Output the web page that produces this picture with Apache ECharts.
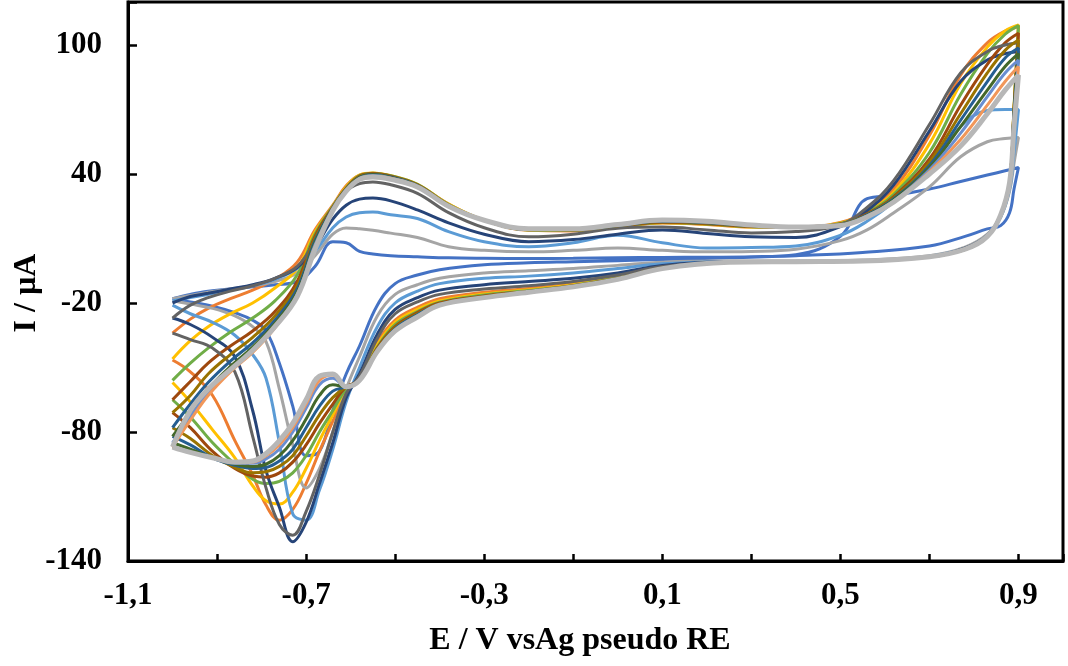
<!DOCTYPE html>
<html>
<head>
<meta charset="utf-8">
<script src="https://cdn.jsdelivr.net/npm/echarts@6/dist/echarts.min.js"></script>
<style>
  html, body { margin: 0; padding: 0; background: #fff; }
  #chart { width: 1068px; height: 666px; }
</style>
</head>
<body>
<div id="chart"></div>
<script>
// Potential program of one cycle: anodic sweep -1.0 -> 0.9 V, then cathodic sweep 0.9 -> -1.0 V
const potential = [
  -1.00, -0.96, -0.92, -0.87, -0.82, -0.77, -0.72, -0.68, -0.64, -0.61, -0.58, -0.55, -0.51, -0.45, -0.38, -0.30,
  -0.20, -0.10, 0.00, 0.10, 0.20, 0.30, 0.40, 0.50, 0.56, 0.62, 0.70, 0.77, 0.83, 0.87, 0.90,
  0.89, 0.88, 0.86, 0.83, 0.78, 0.70, 0.55, 0.40, 0.25, 0.10, 0.00, -0.10, -0.20, -0.30, -0.40, -0.45,
  -0.50, -0.54, -0.58, -0.61, -0.64, -0.67, -0.70, -0.73, -0.76, -0.79, -0.82, -0.86, -0.91, -0.96, -1.00
];

// Current (µA) for each recorded scan, same point order as `potential`
const scan1 = [-18, -16, -14.5, -13.5, -12.5, -11.5, -10, -3, 8.5, 8, 4, 2.8, 2, 1.5, 1, 0.8, 0.7, 0.8, 1, 1.2, 1.3, 1.5, 2.5, 11, 28.5, 30, 33, 36.5, 39.5, 41.5, 43,
  33, 22, 16, 14.5, 11, 6.5, 3.5, 2, 1, 0.2, -0.3, -0.8, -1.3, -2.2, -4.5, -7, -11, -21, -40, -53, -70, -89, -91, -68, -48, -33, -28, -24.5, -21.5, -19.5, -18];
const scan2 = [-34, -27.5, -22.5, -18, -14, -9, -1, 14, 25.5, 34.5, 39.5, 40.3, 39, 35, 26, 18.5, 13.8, 13.5, 15.3, 17.2, 16.5, 15.3, 15.3, 17.5, 23, 33, 58, 86, 101, 106.5, 108.5,
  70, 36, 21, 11, 5, 1.5, -0.5, -0.8, -1, -3, -7.5, -11, -13.2, -15, -18, -22, -28, -38.5, -55, -61, -75, -89, -104, -116, -121, -114, -100, -84, -63, -52, -46.5];
const scan3 = [-18, -16.5, -15, -13.5, -12, -10, -6, 2, 12, 14.9, 14.5, 13.8, 12.5, 10.5, 6.2, 4.5, 3.8, 4.5, 5.6, 4.5, 3.8, 4, 5, 9, 14, 22, 34, 48, 55, 56.5, 57,
  45, 32, 20, 12, 6, 2, 0, -0.5, -0.5, -1, -2.5, -4, -5, -6, -8.5, -11.5, -16, -26, -45, -60, -80, -97, -106, -86, -60, -38, -31, -26, -22.5, -20.5, -19];
const scan4 = [-46, -37.5, -31, -25, -20, -13, -4, 13, 25, 34, 39.5, 40.5, 39.2, 35.2, 26, 18.5, 14, 13.7, 15.4, 17.3, 16.6, 15.4, 15.3, 17.2, 22.5, 31.5, 54, 82, 99, 106.5, 109.3,
  71, 36, 21, 11, 5, 1.5, -0.5, -0.8, -1, -3.3, -8, -11.5, -13.8, -15.8, -19, -23, -29, -39.5, -55, -60, -72, -84, -97, -108, -113.5, -112, -105, -92, -79, -66, -57];
const scan5 = [-19, -17.5, -16, -14, -12, -9, -4, 4, 15, 20, 22, 22.3, 21, 19.3, 13.2, 8.5, 6.2, 8, 11.5, 8, 5.6, 5.8, 6.5, 11.5, 18, 27, 42, 62, 69.5, 70, 70,
  50, 33, 20, 11.5, 5.5, 1.8, -0.3, -0.6, -0.7, -1.8, -4, -6, -7.5, -8.5, -11, -14.5, -20, -31, -50, -66, -88, -107, -121, -118, -85, -55, -44, -35, -29, -25, -21];
const scan6 = [-56, -48, -41, -33.5, -27, -19, -7, 12, 25, 33.5, 39.3, 40.4, 39.2, 35.2, 25.8, 18.5, 14, 13.8, 15.5, 17.4, 16.7, 15.5, 15.3, 17, 22, 30.5, 50, 77, 96, 105, 109,
  71, 36, 21, 11, 5, 1.5, -0.5, -0.8, -1, -3.5, -8.3, -11.8, -14.2, -16.3, -19.6, -24, -30, -40.5, -55.5, -60, -70, -80, -91, -99, -103, -104, -102, -95, -85, -73, -65];
const scan7 = [-20, -17, -15.5, -13.5, -11.5, -8.5, -3.5, 6, 19, 25.5, 28.3, 28.8, 27.5, 23.3, 17.3, 12, 8.5, 9.5, 12, 14, 12.3, 10.8, 10.5, 15.5, 23, 35, 60, 83, 93, 96, 97,
  65, 35, 21, 11.5, 5.5, 1.5, -0.5, -0.8, -0.8, -2.5, -6, -8.5, -10, -11.5, -14, -17.5, -23, -34.5, -53, -64, -85, -104, -122, -131, -115, -98, -70, -45, -36, -30, -27];
const scan8 = [-65, -56.5, -48, -40, -33, -24, -10, 11, 24.5, 33.3, 39, 40.2, 39, 35, 25.6, 18.5, 14.1, 14, 15.7, 17.6, 16.9, 15.6, 15.3, 16.8, 21.5, 29.5, 47, 72, 91, 101, 105.5,
  70, 36, 21, 11, 5, 1.5, -0.5, -0.8, -1, -3.6, -8.5, -12, -14.5, -16.7, -20, -24.5, -31, -41, -56, -59, -67, -76, -86, -94, -99, -101, -100.5, -97, -89, -78, -71];
const scan9 = [-27, -21, -17.5, -14.5, -12, -8.5, -3, 9, 23, 32, 35.5, 36.3, 35, 31, 22, 15, 10.8, 12, 14.8, 15.3, 14, 12.6, 13.2, 16.5, 24.5, 37, 63, 87, 97, 100, 101,
  68, 36, 21, 11.5, 5.5, 1.5, -0.5, -0.8, -0.9, -3, -7, -10, -12, -13.5, -16, -19.5, -25, -36.5, -54, -62, -80, -100, -117, -128, -123, -106, -82, -52, -41, -37, -34];
const scan10 = [-71, -63, -53, -44, -36, -26, -12, 10, 24, 33, 38.8, 40, 38.8, 34.8, 25.4, 18.5, 14.2, 14.2, 15.9, 17.8, 17.1, 15.8, 15.3, 16.6, 21.2, 29, 45.5, 68, 87, 97.5, 102.3,
  69, 36, 21, 11, 5, 1.5, -0.5, -0.8, -1, -3.7, -8.6, -12.2, -14.7, -17, -20.3, -25, -31.5, -41.5, -56, -59, -64, -72, -82, -91, -96, -98.5, -99, -96.5, -91, -83, -78];
const scan11 = [-78, -67, -57, -47, -38.5, -28, -13.5, 9, 24, 32.8, 38.5, 39.8, 38.6, 34.6, 25.2, 18.5, 14.3, 14.3, 16.1, 18, 17.3, 16, 15.4, 16.4, 21, 28.5, 44, 65, 83, 94, 98.6,
  68, 36, 21, 11, 5, 1.5, -0.5, -0.8, -1, -3.8, -8.7, -12.3, -14.8, -17.2, -20.5, -25.5, -32, -42, -56, -59, -61, -68, -78, -88, -93.5, -96.5, -97, -95.5, -92, -86, -82];
const scan12 = [-82, -71, -60, -49.5, -40.5, -29.5, -15, 8, 23.5, 32.5, 38.3, 39.6, 38.4, 34.4, 25.1, 18.5, 14.4, 14.4, 16.2, 18.2, 17.5, 16.1, 15.4, 16.3, 20.7, 28, 43, 62, 79, 90, 96,
  67, 36, 21, 11, 5, 1.5, -0.5, -0.8, -1, -3.9, -8.8, -12.4, -14.9, -17.3, -20.7, -26, -32.5, -42, -56, -59, -58, -63, -74, -84, -91, -95, -96, -95, -92, -88, -85];
const scan13 = [-85, -73, -62, -51, -42, -31, -16, 7, 23.5, 32.2, 38, 39.3, 38.2, 34.2, 25, 18.5, 14.5, 14.5, 16.3, 18.3, 17.7, 16.2, 15.4, 16.2, 20.5, 27.5, 42, 59, 76, 87, 93,
  66, 36, 21, 11, 5, 1.5, -0.5, -0.8, -1.1, -3.9, -8.9, -12.5, -15, -17.4, -20.8, -26, -32.5, -42, -56, -59, -55, -58, -69, -80, -88, -92.5, -94.5, -94.5, -92, -89.5, -87];
const scan14 = [-87, -74.5, -63, -52, -43, -31.5, -16.5, 6, 23, 32, 37.8, 39, 38, 34.1, 25, 18.5, 14.5, 14.5, 16.4, 18.5, 17.8, 16.3, 15.4, 16.1, 20.3, 27.2, 41, 56, 72, 83, 90,
  65, 36, 21, 11, 5, 1.5, -0.5, -0.8, -1.1, -4, -9, -12.5, -15, -17.5, -21, -26.5, -33, -42.5, -56, -59, -53.5, -56, -67, -78, -86, -91, -94, -94, -92, -89.5, -87];
const scan15 = [-87, -70, -60, -51, -42, -31, -17, 5, 23, 32, 37.5, 38.6, 37.5, 34, 25, 18.5, 14.5, 14.5, 16.5, 18.6, 18, 16.3, 15.3, 16, 20, 27, 40, 53, 68, 79, 86,
  62, 36, 21, 11, 5, 1.5, -0.5, -0.8, -1.1, -4, -9, -12.5, -15, -17.5, -21, -26.5, -33, -42.5, -56, -59, -53, -54, -65, -76, -84, -90, -93.5, -94, -92, -89.5, -87];

const scans = [scan1, scan2, scan3, scan4, scan5, scan6, scan7, scan8, scan9, scan10, scan11, scan12, scan13, scan14, scan15];
const scanColors = ['#4472C4', '#ED7D31', '#A5A5A5', '#FFC000', '#5B9BD5', '#70AD47', '#264478', '#9E480E',
  '#636363', '#997300', '#255E91', '#43682B', '#698ED0', '#F1975A', '#B7B7B7'];

// Axis tick labels
const xLabelValues = [-1.1, -0.7, -0.3, 0.1, 0.5, 0.9];
const xTickLabels = ['-1,1', '-0,7', '-0,3', '0,1', '0,5', '0,9'];
const yLabelValues = [-140, -80, -20, 40, 100];
const yTickLabels = ['-140', '-80', '-20', '40', '100'];

function lookupLabel(values, labels, v) {
  for (let i = 0; i < values.length; i++) {
    if (Math.abs(values[i] - v) < 1e-6) return labels[i];
  }
  return '';
}

const FONT = 'Liberation Serif';

const series = scans.map((cur, k) => ({
  type: 'line',
  name: 'scan ' + (k + 1),
  data: potential.map((e, i) => [e, cur[i]]),
  showSymbol: false,
  smooth: 0.4,
  lineStyle: { color: scanColors[k], width: k === scans.length - 1 ? 5 : 3 },
  itemStyle: { color: scanColors[k] },
  emphasis: { disabled: true }
}));

const chart = echarts.init(document.getElementById('chart'), null, { renderer: 'canvas' });
chart.setOption({
  animation: false,
  backgroundColor: '#ffffff',
  grid: {
    left: 128, right: 5, top: 2, bottom: 105,
    show: true, borderColor: '#000', borderWidth: 3, backgroundColor: 'transparent'
  },
  xAxis: {
    type: 'value',
    min: -1.1, max: 1.0, interval: 0.2,
    axisLine: { show: true, onZero: false, lineStyle: { color: '#000', width: 3 } },
    axisTick: { show: true, inside: true, length: 7, lineStyle: { color: '#000', width: 2.5 } },
    splitLine: { show: false },
    axisLabel: {
      margin: 19,
      color: '#000', fontFamily: FONT, fontWeight: 'bold', fontSize: 31,
      formatter: v => lookupLabel(xLabelValues, xTickLabels, v)
    }
  },
  yAxis: {
    type: 'value',
    min: -140, max: 120, interval: 60,
    axisLine: { show: true, onZero: false, lineStyle: { color: '#000', width: 3 } },
    axisTick: { show: true, inside: true, length: 9, lineStyle: { color: '#000', width: 2.5 } },
    splitLine: { show: false },
    axisLabel: {
      margin: 26,
      color: '#000', fontFamily: FONT, fontWeight: 'bold', fontSize: 31,
      formatter: v => lookupLabel(yLabelValues, yTickLabels, v)
    }
  },
  graphic: [
    {
      type: 'text', x: 580, y: 641, silent: true,
      style: { text: 'E / V vsAg pseudo RE', fill: '#000', font: 'bold 32px "Liberation Serif"', align: 'center', verticalAlign: 'middle' }
    },
    {
      type: 'text', x: 27, y: 293, rotation: Math.PI / 2, silent: true,
      style: { text: 'I / µA', fill: '#000', font: 'bold 32px "Liberation Serif"', align: 'center', verticalAlign: 'middle' }
    }
  ],
  series: series
});
</script>
</body>
</html>
